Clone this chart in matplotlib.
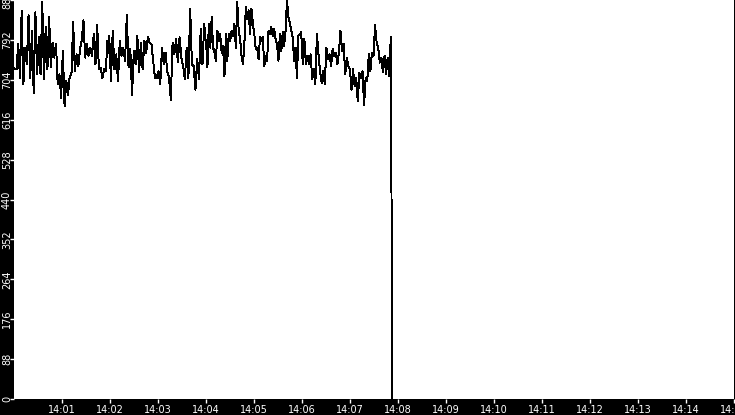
import datetime as dt
import matplotlib
matplotlib.use("Agg")
import matplotlib.pyplot as plt
import matplotlib.dates as mdates
import numpy as np

# readings from the picture, in four stretches of about two minutes each
seg1_vals = [729, 727, 783, 708, 857, 694, 775, 738, 846, 708, 812, 675, 853, 716, 798, 716,
             876, 705, 820, 727, 842, 731, 786, 753, 783, 694, 716, 664, 768, 645, 701, 671,
             712, 716, 831, 723, 760, 734, 772, 790, 835, 753, 783, 757, 775, 757, 805, 738,
             824, 727, 731, 708, 727, 723, 790, 764]
seg2_vals = [801, 701, 812, 727, 760, 701, 790, 757, 775, 746, 846, 731, 772, 671, 768, 738,
             801, 720, 786, 727, 790, 764, 798, 786, 783, 746, 708, 708, 723, 694, 775, 738,
             764, 723, 708, 660, 786, 760, 794, 742, 798, 753, 734, 705, 775, 708, 861, 738,
             734, 682, 749, 705, 816, 738, 827, 779]
seg3_vals = [790, 731, 827, 775, 842, 775, 764, 746, 812, 790, 805, 764, 779, 712, 805, 746,
             805, 790, 812, 801, 827, 775, 876, 812, 794, 757, 738, 783, 864, 838, 857, 805,
             861, 827, 805, 772, 775, 749, 798, 790, 798, 734, 757, 746, 812, 805, 820, 801,
             816, 794, 783, 746, 805, 768, 809, 779, 812, 880, 842, 831, 812, 798, 746, 775,
             708, 801, 805, 798]
seg4_vals = [809, 738, 794, 738, 757, 738, 760, 705, 727, 694, 805, 760, 723, 697, 723, 694,
             775, 749, 760, 734, 772, 757, 764, 738, 764, 812, 768, 783, 716, 753, 734, 727,
             682, 727, 690, 708, 656, 720, 708, 723, 649, 708, 701, 760, 723, 764, 757, 824,
             786, 775, 742, 753, 720, 757, 716, 753, 712, 799]
# seconds after 14:00 where each stretch starts and ends
seg_edges_s = [1, 119, 240, 359, 471]
# final drop
drop_vals = [393, 0]
drop_times_s = [472, 473]

y_max = 880
day = dt.datetime(2024, 1, 1, 14, 0, 0)

secs = []
vals = []
for i, seg in enumerate([seg1_vals, seg2_vals, seg3_vals, seg4_vals]):
    secs.extend(np.linspace(seg_edges_s[i], seg_edges_s[i + 1], len(seg)))
    vals.extend(seg)
secs.extend(drop_times_s)
vals.extend(drop_vals)
times = [day + dt.timedelta(seconds=float(s)) for s in secs]

fig = plt.figure(figsize=(7.35, 4.15), dpi=100, facecolor="black")
ax = fig.add_axes([14 / 735, 16 / 415, 720 / 735, 399 / 415])
ax.set_facecolor("white")
ax.plot(times, vals, color="black", lw=0.7, antialiased=False)

ax.set_xlim(day, day + dt.timedelta(minutes=15))
ax.set_ylim(0, y_max)
ax.set_yticks(np.arange(0, y_max + 1, y_max // 10))
ax.set_xticks([day + dt.timedelta(minutes=m) for m in range(1, 16)])
ax.xaxis.set_major_formatter(mdates.DateFormatter("%H:%M"))

for s in ax.spines.values():
    s.set_visible(False)
ax.tick_params(colors="white", labelsize=7, width=1)
ax.tick_params(axis="x", length=3, pad=1.5)
ax.tick_params(axis="y", labelrotation=90, length=3, pad=-1.5)
for lbl in ax.get_yticklabels():
    lbl.set_va("center")

fig.savefig("out.png", dpi=100, facecolor="black")
